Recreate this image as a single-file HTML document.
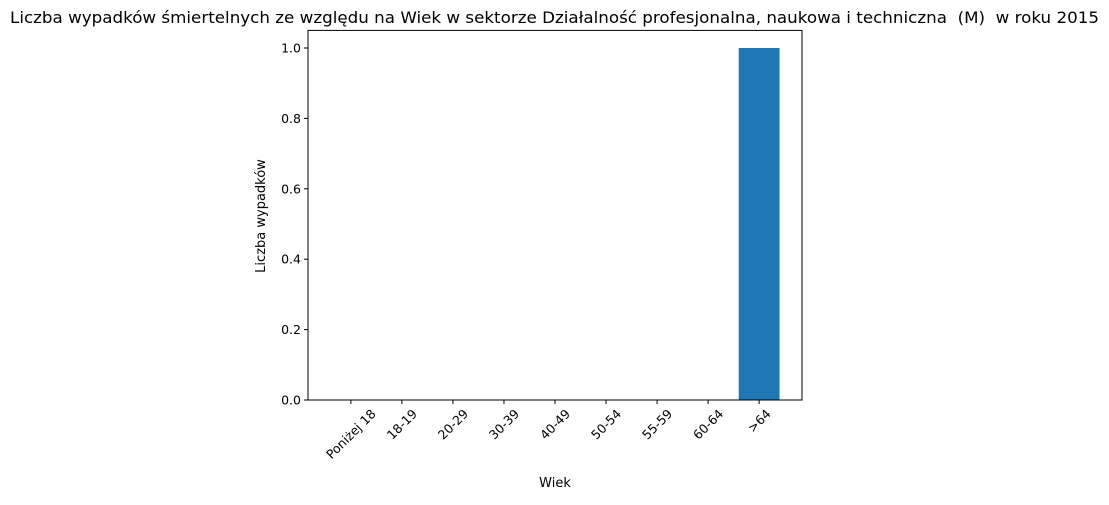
<!DOCTYPE html>
<html><head><meta charset="utf-8"><style>
body{margin:0;background:#fff;width:1109px;height:500px;overflow:hidden}
svg text{font-family:"DejaVu Sans","Liberation Sans",sans-serif;fill:#000;white-space:pre}
</style></head><body>
<svg id="chart" width="1109" height="500">
<text x="10" y="23" font-size="16" textLength="1089" lengthAdjust="spacingAndGlyphs">Liczba wypadków śmiertelnych ze względu na Wiek w sektorze Działalność profesjonalna, naukowa i techniczna  (M)  w roku 2015</text>
<g id="bars"></g><g id="xt"></g><g id="yt"></g>
<rect x="308" y="30.4" width="494" height="369.6" fill="none" stroke="#000" stroke-width="1"/>
<text x="555" y="487" font-size="13" text-anchor="middle">Wiek</text>
<text transform="translate(265,216) rotate(-90)" font-size="13" text-anchor="middle">Liczba wypadków</text>
</svg>
<script>
const categories=["Poniżej 18","18-19","20-29","30-39","40-49","50-54","55-59","60-64",">64"];
const values=[0,0,0,0,0,0,0,0,1];
const yTicks=[0,0.2,0.4,0.6,0.8,1.0];
const NS="http://www.w3.org/2000/svg";
const L=308,R=802,T=30.4,B=400;
const xmin=-0.84,xmax=8.84,ymax=1.05;
const xs=i=>L+(i-xmin)/(xmax-xmin)*(R-L);
const ys=v=>B-v/ymax*(B-T);
const bw=0.8*(R-L)/(xmax-xmin);
function mk(t,a,p){const e=document.createElementNS(NS,t);for(const k in a)e.setAttribute(k,a[k]);p.appendChild(e);return e;}
const gb=document.getElementById('bars'),gx=document.getElementById('xt'),gy=document.getElementById('yt');
values.forEach((v,i)=>{
 const r=mk('rect',{x:xs(i)-bw/2,y:ys(v),width:bw,height:B-ys(v),fill:'#1f77b4'},gb);
 
 
});
categories.forEach((c,i)=>{
 const x=xs(i);
 mk('line',{x1:x,x2:x,y1:B,y2:B+4,stroke:'#000'},gx);
 const t=mk('text',{x:x,y:B,'font-size':12.5,'text-anchor':'middle','dominant-baseline':'central'},gx);
 t.textContent=c;
 
 
 const w=t.getComputedTextLength(),h=12.5;
 const cy=B+7+(w+h)*0.7071/2;
 t.setAttribute('y',cy);
 t.setAttribute('transform',`rotate(-45 ${x} ${cy})`);
});
yTicks.forEach(v=>{
 const y=ys(v);
 mk('line',{x1:L-4,x2:L,y1:y,y2:y,stroke:'#000'},gy);
 const t=mk('text',{x:L-7,y:y+4.5,'font-size':12.5,'text-anchor':'end'},gy);
 t.textContent=v.toFixed(1);
 
 
});
</script>
</body></html>
